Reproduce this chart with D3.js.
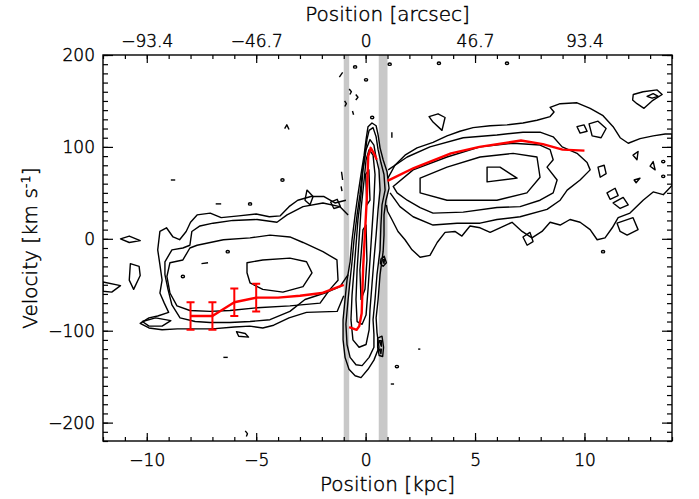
<!DOCTYPE html>
<html>
<head>
<meta charset="utf-8">
<script src="https://cdn.jsdelivr.net/npm/d3@7"></script>
<style>
  body { margin: 0; background: #fff; }
  svg text { font-family: "DejaVu Sans", sans-serif; font-weight: 200; fill: #000; stroke: #000; stroke-width: 0.45; }
</style>
</head>
<body>
<div id="chart"></div>
<script>
// ---- data (position in kpc, velocity in km/s) ----
const xTicks = [-10, -5, 0, 5, 10];
const xTickLabels = ["\u221210", "\u22125", "0", "5", "10"];
const arcTicks = [-93.4, -46.7, 0, 46.7, 93.4];
const arcTickLabels = ["\u221293.4", "\u221246.7", "0", "46.7", "93.4"];
const yTicks = [-200, -100, 0, 100, 200];
const yTickLabels = ["\u2212200", "\u2212100", "0", "100", "200"];
const arcPerKpc = 9.34;

// grey bands masking the bar / nucleus
const bands = [[-1.0, -0.75], [0.6, 1.0]];

// rotation curve (red)
const curveLeft = [[-8,-84],[-7,-84],[-6,-69],[-5,-64],[-4,-64],[-3,-62],[-2,-59],[-1,-50]];
const curveCentre = [[-0.75,-96],[-0.41,-99],[-0.29,-95],[-0.18,-81],[-0.11,-30],[0.05,42],[0.12,90],[0.23,99],[0.38,93],[0.51,86]];
const curveRight = [[1.0,63],[2.2,77],[3.9,93],[5.2,100],[7.1,107],[8.1,103],[9.0,97],[10.0,96]];
const errPos = [-8, -7, -6, -5];
const errVel = [-84, -84, -69, -64];
const errSize = [15, 15, 15, 15];

// contours that run into the central ridge (open)
const openContours = [
  // left lobe, outer
  [[-1.0,-62],[-1.3,-79],[-2.7,-80],[-3.5,-86],[-4.2,-94],[-4.7,-97],[-5.3,-95],[-6.0,-96],[-7.0,-98],[-8.0,-98],[-8.6,-98],[-9.3,-99],[-9.9,-97],[-10.3,-92],[-9.9,-86],[-9.5,-84],[-9.0,-80],[-9.2,-70],[-9.4,-59],[-9.3,-45],[-9.4,-28],[-9.5,-12],[-9.4,8],[-9.1,12],[-8.8,2],[-8.5,-1],[-8.2,8],[-8.0,18],[-7.7,26],[-7.1,28],[-6.6,23],[-5.8,25],[-5.0,27],[-4.4,24],[-3.9,25],[-3.5,35],[-3.1,42],[-2.5,46],[-1.9,46],[-1.4,39],[-0.9,42]],
  // left lobe, second
  [[-0.8,-39],[-1.17,-52],[-1.86,-59],[-2.77,-66],[-3.46,-79],[-4.37,-88],[-5.28,-90],[-6.2,-91],[-7.11,-91],[-7.79,-90],[-8.48,-86],[-8.85,-72],[-9.03,-55],[-9.17,-39],[-9.17,-25],[-8.85,-12],[-8.35,-10],[-8.03,-7],[-7.94,8],[-7.57,14],[-6.97,17],[-6.06,20],[-4.96,21],[-4.05,18],[-3.59,26],[-2.86,35],[-1.95,39],[-1.17,35],[-0.8,26]],
  // right lobe, outer
  [[1.02,66],[1.34,80],[1.8,91],[2.35,99],[3.08,105],[3.72,112],[4.31,117],[4.91,121],[5.69,123],[6.46,124],[7.19,126],[7.83,129],[8.43,133],[8.61,138],[8.43,143],[8.89,147],[9.66,148],[10.26,142],[10.85,134],[11.31,122],[11.63,110],[12.0,104],[12.54,109],[13.14,112],[13.69,114],[14.0,114],[14.0,58],[13.6,48],[13.14,51],[12.68,42],[12.08,28],[11.54,23],[11.27,12],[10.94,1],[10.58,-1],[10.26,10],[9.8,18],[9.34,21],[8.89,15],[8.43,18],[8.06,8],[7.6,1],[7.15,8],[6.69,18],[6.14,12],[5.69,7],[5.23,12],[4.77,14],[4.4,3],[4.08,8],[3.63,7],[3.27,-4],[2.94,-18],[2.49,-20],[2.12,-12],[1.8,-1],[1.48,8],[1.2,21],[1.0,30],[0.95,37]],
  // right lobe, second
  [[1.03,75],[1.9,89],[2.94,100],[4.46,110],[6.0,113],[7.19,116],[7.97,116],[8.57,111],[8.98,100],[9.66,93],[10.12,83],[10.26,75],[9.8,64],[9.21,53],[8.89,42],[8.29,32],[7.06,24],[6.0,21],[5.23,17],[4.18,17],[3.08,15],[2.17,24],[1.57,35],[1.12,50]]
];

// closed contours
const ridgeContours = [
  [[0.11,122],[0.29,126],[0.48,123],[0.57,113],[0.66,99],[0.8,86],[0.98,73],[1.07,55],[0.93,42],[0.84,26],[0.84,4],[0.8,-14],[0.66,-39],[0.57,-66],[0.48,-86],[0.52,-102],[0.61,-118],[0.38,-132],[0.11,-142],[-0.21,-151],[-0.48,-149],[-0.76,-142],[-0.94,-129],[-1.03,-110],[-1.03,-88],[-0.94,-66],[-0.85,-45],[-0.71,-25],[-0.62,-1],[-0.48,26],[-0.35,48],[-0.21,70],[-0.07,91],[0.02,108]],
  [[0.16,118],[0.34,121],[0.48,111],[0.57,97],[0.7,83],[0.84,70],[0.89,53],[0.75,37],[0.7,15],[0.66,-12],[0.52,-39],[0.43,-66],[0.34,-88],[0.38,-104],[0.38,-118],[0.16,-129],[-0.16,-138],[-0.44,-137],[-0.71,-129],[-0.85,-115],[-0.9,-93],[-0.8,-66],[-0.71,-45],[-0.62,-25],[-0.53,-1],[-0.39,26],[-0.26,48],[-0.16,70],[-0.03,91],[0.06,108]],
  [[0.2,108],[0.38,102],[0.48,88],[0.61,75],[0.66,53],[0.57,32],[0.48,4],[0.38,-23],[0.29,-50],[0.2,-77],[0.16,-99],[0.02,-115],[-0.3,-118],[-0.58,-110],[-0.67,-88],[-0.62,-61],[-0.53,-34],[-0.44,-7],[-0.35,21],[-0.21,48],[-0.12,75],[0.02,97]],
  [[0.16,97],[0.34,91],[0.43,70],[0.38,42],[0.29,10],[0.2,-23],[0.11,-55],[0.02,-83],[-0.16,-93],[-0.39,-90],[-0.44,-66],[-0.39,-34],[-0.3,-1],[-0.21,32],[-0.07,64],[0.02,86]],
  [[-0.12,10],[0.02,15],[0.06,-23],[-0.03,-55],[-0.21,-66],[-0.26,-34]],
  [[0.0,70],[0.15,75],[0.2,42],[0.06,37]],
  [[0.7,-22],[0.85,-19],[0.95,-26],[0.8,-30],[0.68,-27]],
  [[0.78,-23],[0.86,-22],[0.84,-27]],
  [[0.55,-108],[0.75,-106],[0.82,-118],[0.78,-128],[0.62,-127],[0.55,-118]],
  [[0.62,-111],[0.72,-111],[0.72,-117]],
  [[0.62,-120],[0.72,-120],[0.7,-125]]
];

const leftContours = [
  [[-8.94,-26],[-8.35,-23],[-8.03,-10],[-7.7,-7],[-6.5,-1],[-5.28,1],[-4.37,4],[-3.46,2],[-2.86,-4],[-1.95,-14],[-1.31,-23],[-1.26,-45],[-1.63,-55],[-2.08,-70],[-3.46,-73],[-4.96,-75],[-6.2,-78],[-7.11,-79],[-8.03,-78],[-8.62,-73],[-8.94,-59],[-9.08,-41]],
  [[-5.42,-26],[-4.7,-23],[-3.46,-21],[-2.7,-25],[-2.45,-37],[-2.86,-52],[-3.78,-58],[-4.7,-55],[-5.28,-48],[-5.42,-37]],
  [[-10.2,-90],[-9.6,-86],[-8.9,-89],[-9.3,-95],[-9.9,-95]],
  [[-5.9,-101],[-5.5,-103],[-5.35,-107],[-5.8,-106]],
  [[-11.2,0],[-10.8,3],[-10.3,-2],[-10.8,-4]],
  [[-12,-47],[-11.2,-51],[-11.6,-58],[-12,-57]],
  [[-10.75,-27],[-10.35,-30],[-10.3,-40],[-10.6,-55],[-10.8,-45]],
  [[-2.68,53],[-2.4,46],[-2.54,37],[-2.77,42]],
  [[-1.6,40],[-1.3,43],[-1.15,35],[-1.45,33]]
];

const rightContours = [
  [[1.26,57],[2.17,75],[3.72,89],[5.23,100],[6.74,104],[7.97,102],[8.43,97],[8.57,86],[8.29,78],[8.75,64],[8.57,50],[7.97,42],[7.06,35],[6.0,34],[4.46,29],[3.08,28],[2.49,34],[1.9,42],[1.44,50]],
  [[2.49,66],[3.72,78],[5.23,89],[6.74,93],[7.83,89],[7.97,67],[7.37,50],[6.0,42],[3.72,42],[2.49,50]],
  [[5.55,78],[6.14,78],[6.92,66],[5.55,62]],
  [[12.23,157],[12.68,160],[13.32,162],[13.55,157],[13.09,150],[12.72,142],[12.4,147],[12.2,151]],
  [[12.86,155],[13.14,158],[13.37,155],[13.09,153]],
  [[2.9,133],[3.31,136],[3.63,132],[3.49,118],[3.08,127]],
  [[9.66,122],[9.98,124],[10.12,117],[9.8,115]],
  [[10.21,125],[10.62,128],[10.99,120],[10.76,110],[10.35,112]],
  [[10.62,78],[10.9,80],[10.99,71],[10.72,67]],
  [[11.03,50],[11.4,55],[11.54,47],[11.17,43]],
  [[11.31,39],[11.77,45],[12.0,37],[11.63,33]],
  [[12.22,91],[12.45,95],[12.4,86]],
  [[13.0,79],[13.14,84],[13.23,75]],
  [[12.27,64],[12.54,66],[12.36,61]],
  [[7.19,2],[7.51,7],[7.65,-3],[7.38,-7]],
  [[11.49,17],[12.22,23],[12.45,10],[11.95,4],[11.63,8]]
];

// tiny isolated features
const specks = [[-0.48,187],[1.1,190],[3.35,191],[6.46,191],[0.02,173],[0.3,132],[-3.8,64],[-5.28,38],[-6.3,-14],[-8.35,-41],[10.85,-14],[1.43,-139],[13.6,68],[13.6,84]];
const dashes = [
  [[-1.2,176],[-1.05,181]],
  [[-0.75,163],[-0.65,160],[-0.72,157]],
  [[-0.45,157],[-0.35,154],[-0.45,151]],
  [[-0.96,150],[-0.88,147],[-0.95,144]],
  [[-0.6,139],[-0.55,135]],
  [[-1.1,73],[-1.05,64]],
  [[-1.12,57],[-1.08,52]],
  [[1.2,116],[1.2,110]],
  [[1.15,-158],[1.3,-158]],
  [[-6.85,38],[-6.6,38]],
  [[-8.9,64],[-8.7,64]],
  [[-3.7,120],[-3.6,124],[-3.5,119]],
  [[-7.5,-27],[-7.2,-26]],
  [[-6.5,-129],[-6.3,-129]],
  [[-5.5,-209],[-5.4,-212],[-5.45,-215]],
  [[2.4,-120],[2.5,-120]]
];

// ---- layout ----
const width = 699, height = 499;
const margin = { top: 55, right: 27, bottom: 58, left: 103 };

const svg = d3.select("#chart").append("svg")
  .attr("width", width)
  .attr("height", height);

svg.append("rect").attr("width", width).attr("height", height).attr("fill", "#fff");

const x = d3.scaleLinear().domain([-12, 14]).range([margin.left, width - margin.right]);
const xArc = d3.scaleLinear().domain([-12 * arcPerKpc, 14 * arcPerKpc]).range(x.range());
const y = d3.scaleLinear().domain([-220, 200]).range([height - margin.bottom, margin.top]);

svg.append("clipPath").attr("id", "plot")
  .append("rect")
  .attr("x", margin.left).attr("y", margin.top)
  .attr("width", x.range()[1] - margin.left)
  .attr("height", y.range()[0] - margin.top);

const plot = svg.append("g").attr("clip-path", "url(#plot)");

// ---- grey bands ----
plot.selectAll(".band")
  .data(bands)
  .join("rect")
  .attr("class", "band")
  .attr("x", d => x(d[0]))
  .attr("width", d => x(d[1]) - x(d[0]))
  .attr("y", margin.top)
  .attr("height", y.range()[0] - margin.top)
  .attr("fill", "#c8c8c8");

// ---- contours ----
const line = d3.line().x(d => x(d[0])).y(d => y(d[1]));
const closed = d3.line().x(d => x(d[0])).y(d => y(d[1])).curve(d3.curveLinearClosed);

const cont = plot.append("g")
  .attr("fill", "none")
  .attr("stroke", "#000")
  .attr("stroke-width", 1.4)
  .attr("stroke-linejoin", "round");

cont.selectAll(".open").data(openContours).join("path").attr("class", "open").attr("d", line);
cont.selectAll(".closed")
  .data([...ridgeContours, ...leftContours, ...rightContours])
  .join("path").attr("class", "closed").attr("d", closed);
cont.selectAll(".dash").data(dashes).join("path").attr("class", "dash").attr("d", line);
cont.selectAll(".speck").data(specks).join("ellipse")
  .attr("class", "speck")
  .attr("cx", d => x(d[0])).attr("cy", d => y(d[1]))
  .attr("rx", 1.6).attr("ry", 1.2);

// ---- rotation curve ----
const red = plot.append("g")
  .attr("fill", "none")
  .attr("stroke", "#ff0000")
  .attr("stroke-width", 2.4)
  .attr("stroke-linejoin", "round");

red.selectAll(".curve")
  .data([curveLeft, curveCentre, curveRight])
  .join("path").attr("class", "curve").attr("d", line);

const errs = errPos.map((p, i) => ({ p, v: errVel[i], e: errSize[i] }));
red.selectAll(".err")
  .data(errs)
  .join("path")
  .attr("class", "err")
  .attr("stroke-width", 2)
  .attr("d", d => {
    const cx = x(d.p), y0 = y(d.v - d.e), y1 = y(d.v + d.e);
    return `M${cx - 4},${y0}H${cx + 4}M${cx},${y0}V${y1}M${cx - 4},${y1}H${cx + 4}`;
  });

// ---- axes ----
const plotBottom = y.range()[0], plotRight = x.range()[1];
const fontSize = 17;

function addAxis(axis, transform, labels) {
  const g = svg.append("g").attr("transform", transform).call(axis);
  g.select(".domain").remove();
  g.selectAll("line").attr("stroke", "#000").attr("stroke-width", 1.2);
  g.selectAll("text").attr("font-size", fontSize).attr("font-family", null);
  if (!labels) g.selectAll("text").remove();
  return g;
}

const kpcMinor = d3.range(-12, 15, 1);
const velMinor = d3.range(-220, 201, 10);

addAxis(d3.axisBottom(x).tickValues(kpcMinor).tickSize(-4), `translate(0,${plotBottom})`, false);
addAxis(d3.axisBottom(x).tickValues(xTicks).tickSize(-8).tickPadding(13)
  .tickFormat((d, i) => xTickLabels[i]), `translate(0,${plotBottom})`, true);

addAxis(d3.axisTop(xArc).tickValues(kpcMinor.map(k => k * arcPerKpc)).tickSize(-4), `translate(0,${margin.top})`, false);
addAxis(d3.axisTop(xArc).tickValues(arcTicks).tickSize(-8).tickPadding(8)
  .tickFormat((d, i) => arcTickLabels[i]), `translate(0,${margin.top})`, true);

addAxis(d3.axisLeft(y).tickValues(velMinor).tickSize(-5), `translate(${margin.left},0)`, false);
addAxis(d3.axisLeft(y).tickValues(yTicks).tickSize(-10).tickPadding(8)
  .tickFormat((d, i) => yTickLabels[i]), `translate(${margin.left},0)`, true);

addAxis(d3.axisRight(y).tickValues(velMinor).tickSize(-5), `translate(${plotRight},0)`, false);
addAxis(d3.axisRight(y).tickValues(yTicks).tickSize(-10), `translate(${plotRight},0)`, false);

svg.append("rect")
  .attr("x", margin.left).attr("y", margin.top)
  .attr("width", plotRight - margin.left)
  .attr("height", plotBottom - margin.top)
  .attr("fill", "none").attr("stroke", "#000").attr("stroke-width", 1.4);

// ---- titles ----
const midX = (margin.left + plotRight) / 2;
svg.append("text").attr("x", midX).attr("y", 21)
  .attr("text-anchor", "middle").attr("font-size", 20)
  .text("Position [arcsec]");

svg.append("text").attr("x", midX).attr("y", 491)
  .attr("text-anchor", "middle").attr("font-size", 20)
  .text("Position [kpc]");

const yl = svg.append("text")
  .attr("transform", `translate(37,${(margin.top + plotBottom) / 2}) rotate(-90)`)
  .attr("text-anchor", "middle").attr("font-size", 20);
yl.append("tspan").text("Velocity [km s");
yl.append("tspan").attr("baseline-shift", "super").attr("font-size", 13).text("-1");
yl.append("tspan").text("]");
</script>
</body>
</html>
